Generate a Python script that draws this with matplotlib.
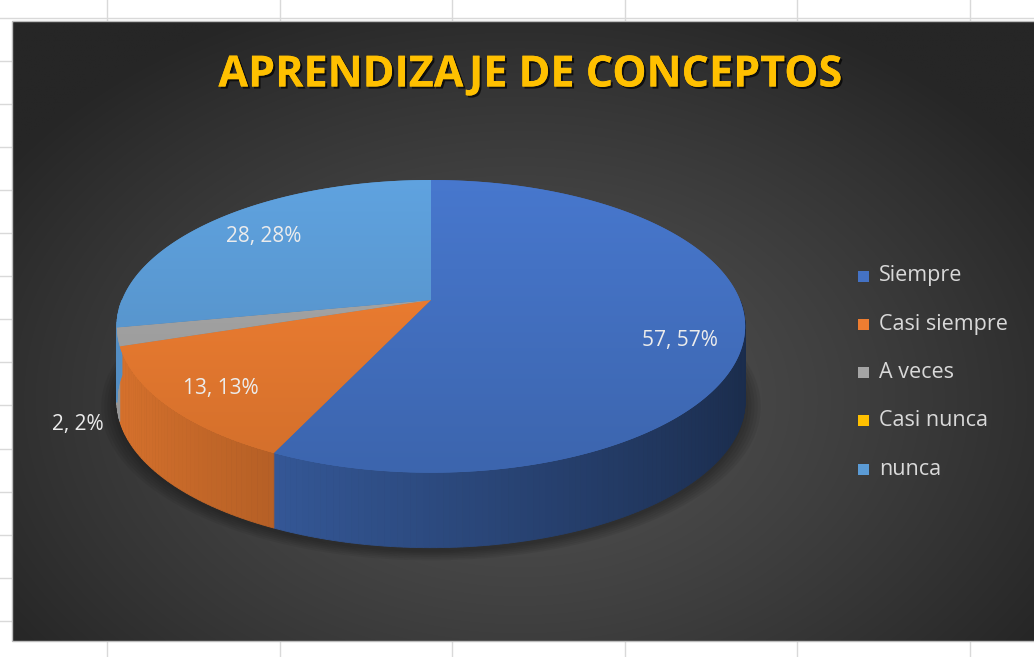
import numpy as np
import matplotlib.pyplot as plt
from matplotlib.patches import Polygon, Rectangle
from matplotlib.colors import to_rgb
import matplotlib.patheffects as pe

categorias = ["Siempre", "Casi siempre", "A veces", "Casi nunca", "nunca"]
valores = [57, 13, 2, 0, 28]
colores = ["#4472C4", "#ED7D31", "#A5A5A5", "#FFC000", "#5B9BD5"]
etiquetas = ["57, 57%", "13, 13%", "2, 2%", "", "28, 28%"]
r_etiqueta = [0.8, 0.82, 1.12, 0, 0.765]
baja_etiqueta = [0.2, 0.05, 1.1, 0, 0.0]

W, H = 1034, 657
fig = plt.figure(figsize=(W / 100, H / 100), dpi=100)
fig.patch.set_facecolor("white")
ax = fig.add_axes([0, 0, 1, 1])
ax.set_xlim(0, W)
ax.set_ylim(H, 0)
ax.axis("off")

# cuadricula de la hoja de calculo
for x in np.arange(107, W, 172.6):
    ax.plot([x, x], [0, H], color="#d9d9d9", lw=1, zorder=0)
for y in np.arange(17.5, H, 43.1):
    ax.plot([0, W], [y, y], color="#d9d9d9", lw=1, zorder=0)

# fondo del grafico (degradado radial)
x0, x1, y0, y1 = 12, W + 2, 21, 641
gx, gy = np.meshgrid(np.linspace(x0, x1, 400), np.linspace(y0, y1, 250))
d = np.clip(np.sqrt(((gx - 520) / 620) ** 2 + ((gy - 400) / 430) ** 2), 0, 1)
c = (82 - 44 * d ** 1.3) / 255
fondo = np.dstack([c, c, c])
ax.imshow(fondo, extent=[x0, x1, y1, y0], zorder=1, interpolation="bilinear", aspect="auto")
ax.add_patch(Rectangle((x0, y0), x1 - x0, y1 - y0, fill=False, ec="#bdbdbd", lw=1, zorder=1.5))

# geometria del pastel 3D
cx, cy, a, b, k, prof = 431, 300, 309, 141.6, 0.18, 75


def borde(t, r=1.0):
    t = np.radians(t)
    u, v = r * np.sin(t), -r * np.cos(t)
    w = 1 - k * v
    return cx + a * u / w, cy + b * v / w


inicio = np.concatenate([[0], np.cumsum(valores)[:-1]]) * 3.6
fin = inicio + np.array(valores) * 3.6

# sombra
ts = np.linspace(0, 360, 200)
bx, by = borde(ts)
for i, s in enumerate(np.linspace(1.05, 1.0, 6)):
    px = cx + (bx - cx) * s
    py = cy + prof + 4 + (by - cy) * s
    ax.add_patch(Polygon(np.column_stack([px, py]), closed=True, fc="black",
                         ec="none", alpha=0.06, zorder=2))

# paredes laterales
for i in range(len(valores)):
    lo, hi = max(inicio[i], 90), min(fin[i], 270)
    if valores[i] == 0 or hi <= lo:
        continue
    base = np.array(to_rgb(colores[i]))
    n = max(int(hi - lo), 2)
    tt = np.linspace(lo, hi, n + 1)
    for j in range(n):
        xa, ya = borde(tt[j])
        xb, yb = borde(tt[j + 1])
        f = 0.65 - 0.27 * np.sin(np.radians((tt[j] + tt[j + 1]) / 2))
        col = np.clip(base * f, 0, 1)
        ax.add_patch(Polygon([[xa, ya], [xb, yb], [xb, yb + prof], [xa, ya + prof]],
                             closed=True, fc=col, ec=col, lw=0.6, zorder=3))

# cara superior
grad = np.linspace(1.07, 0.88, 200)[:, None]
for i in range(len(valores)):
    if valores[i] == 0:
        continue
    tt = np.linspace(inicio[i], fin[i], max(int(valores[i] * 3.6), 2) + 1)
    rx, ry = borde(tt)
    pts = np.vstack([[cx, cy], np.column_stack([rx, ry])])
    base = np.array(to_rgb(colores[i]))
    poly = Polygon(pts, closed=True, fc=base * 0.97, ec="none", zorder=4)
    ax.add_patch(poly)
    img = np.clip(grad[:, :, None] * base[None, None, :] * np.ones((1, 2, 1)), 0, 1)
    im = ax.imshow(img, extent=[cx - a * 1.1, cx + a * 1.1, cy + b * 1.3, cy - b * 1.1],
                   zorder=4.5, interpolation="bilinear", aspect="auto")
    im.set_clip_path(poly)

# etiquetas de datos
for i in range(len(valores)):
    if valores[i] == 0:
        continue
    tm = (inicio[i] + fin[i]) / 2
    lx, ly = borde(tm, r_etiqueta[i])
    ax.text(lx, ly + baja_etiqueta[i] * prof, etiquetas[i], ha="center", va="center",
            fontsize=15, family="Open Sans", color="#ececec", zorder=6)

# titulo
ax.text(530, 75, "APRENDIZAJE DE CONCEPTOS", ha="center", va="center", fontsize=31,
        family="Open Sans", weight="bold", color="#FFC000", zorder=6,
        path_effects=[pe.withSimplePatchShadow(offset=(1.5, -1.5), shadow_rgbFace="black", alpha=0.7),
                      pe.Normal()])

# leyenda
for i, cat in enumerate(categorias):
    yl = 276 + i * 48.3
    ax.add_patch(Rectangle((858, yl - 5.5), 11, 11, fc=colores[i], ec="none", zorder=6))
    ax.text(879, yl, cat, ha="left", va="center", fontsize=15.5, family="Open Sans",
            color="#d9d9d9", zorder=6)

fig.savefig("out.png", dpi=100)
